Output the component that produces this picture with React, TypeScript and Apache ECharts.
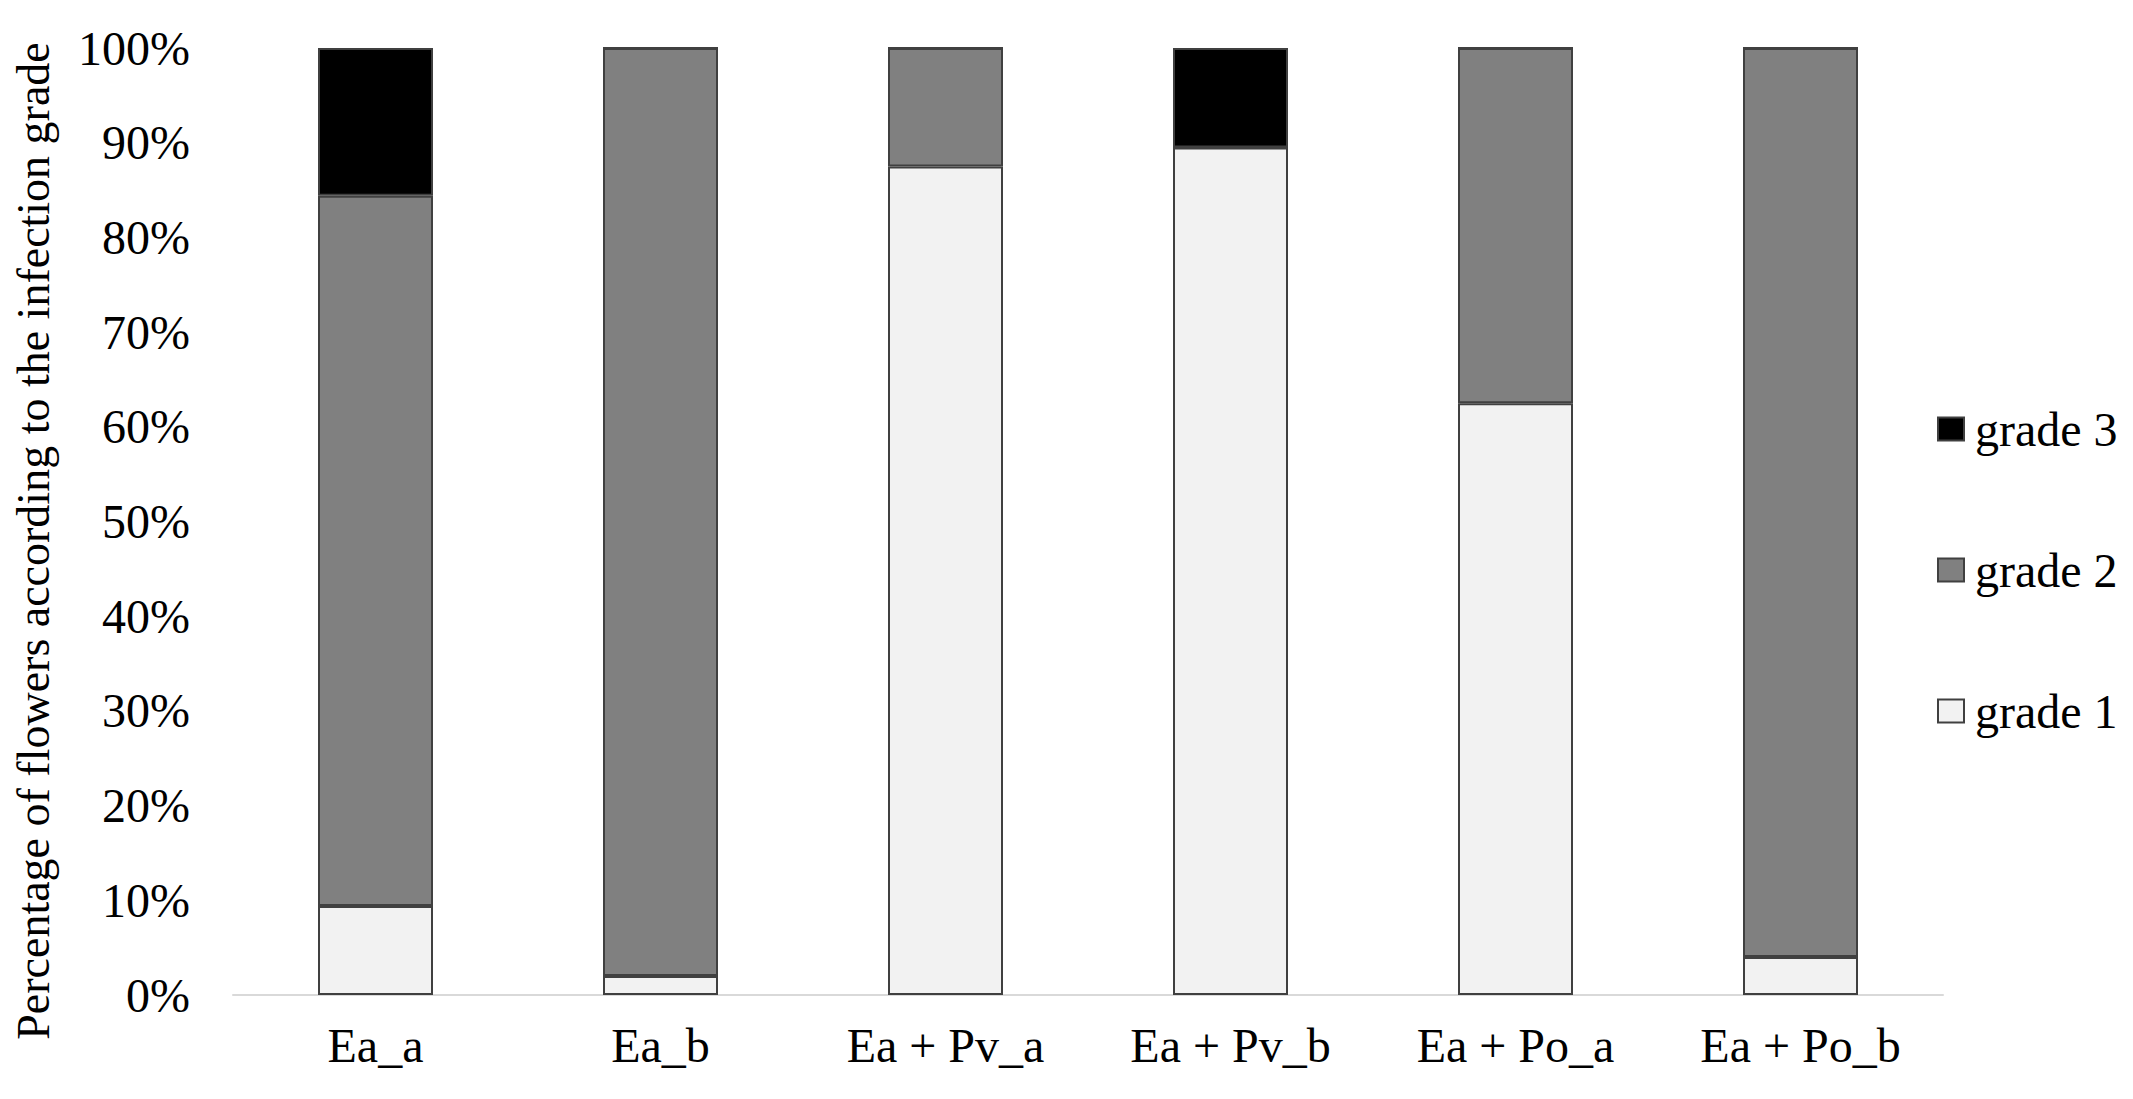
import React, { useEffect, useRef } from "react";
import * as echarts from "echarts";

const categories = ["Ea_a", "Ea_b", "Ea + Pv_a", "Ea + Pv_b", "Ea + Po_a", "Ea + Po_b"];
const grade1 = [9.4, 2.0, 87.5, 89.5, 62.5, 4.0];
const grade2 = [75.0, 98.0, 12.5, 0, 37.5, 96.0];
const grade3 = [15.6, 0, 0, 10.5, 0, 0];
const yTicks = { min: 0, max: 100, interval: 10 };
const yTitle = "Percentage of flowers according to the infection grade";

const FONT = "Liberation Serif";
const FS = 48;

export default function App() {
  const ref = useRef<HTMLDivElement>(null);
  useEffect(() => {
    if (!ref.current) return;
    const chart = echarts.init(ref.current, undefined, { renderer: "svg" });
    const border = { borderColor: "#404040", borderWidth: 2 };
    chart.setOption({
      animation: false,
      backgroundColor: "#ffffff",
      textStyle: { fontFamily: FONT },
      grid: { left: 225, right: 182, top: 40, bottom: 96, containLabel: false },
      graphic: [
        {
          type: "text",
          x: 25,
          y: 533,
          rotation: Math.PI / 2,
          style: {
            text: yTitle,
            fontFamily: FONT,
            fontSize: 46,
            lineHeight: 46,
            fill: "#000",
            align: "center",
            verticalAlign: "middle",
          },
        },
      ],
      legend: {
        orient: "vertical",
        left: 1924,
        top: 388,
        itemWidth: 26,
        itemHeight: 23,
        itemGap: 85,
        icon: "rect",
        data: ["grade 3", "grade 2", "grade 1"],
        textStyle: { fontFamily: FONT, fontSize: FS, color: "#000", lineHeight: 56, padding: [0, 0, 0, 6] },
      },
      xAxis: {
        type: "category",
        data: categories,
        axisLine: { lineStyle: { color: "#d9d9d9", width: 2 } },
        axisTick: { show: false },
        axisLabel: { fontFamily: FONT, fontSize: FS, color: "#000", margin: 26 },
      },
      yAxis: {
        type: "value",
        min: yTicks.min,
        max: yTicks.max,
        interval: yTicks.interval,
        axisLine: { show: false },
        axisTick: { show: false },
        splitLine: { show: false },
        axisLabel: { fontFamily: FONT, fontSize: FS, color: "#000", margin: 43, formatter: "{value}%" },
      },
      series: [
        {
          name: "grade 1",
          type: "bar",
          stack: "s",
          barWidth: 115,
          data: grade1,
          itemStyle: { color: "#f2f2f2", ...border },
        },
        {
          name: "grade 2",
          type: "bar",
          stack: "s",
          barWidth: 115,
          data: grade2,
          itemStyle: { color: "#808080", ...border },
        },
        {
          name: "grade 3",
          type: "bar",
          stack: "s",
          barWidth: 115,
          data: grade3,
          itemStyle: { color: "#000000", ...border },
        },
      ],
    });
    return () => chart.dispose();
  }, []);
  return <div ref={ref} style={{ width: 2117, height: 1083 }} />;
}
